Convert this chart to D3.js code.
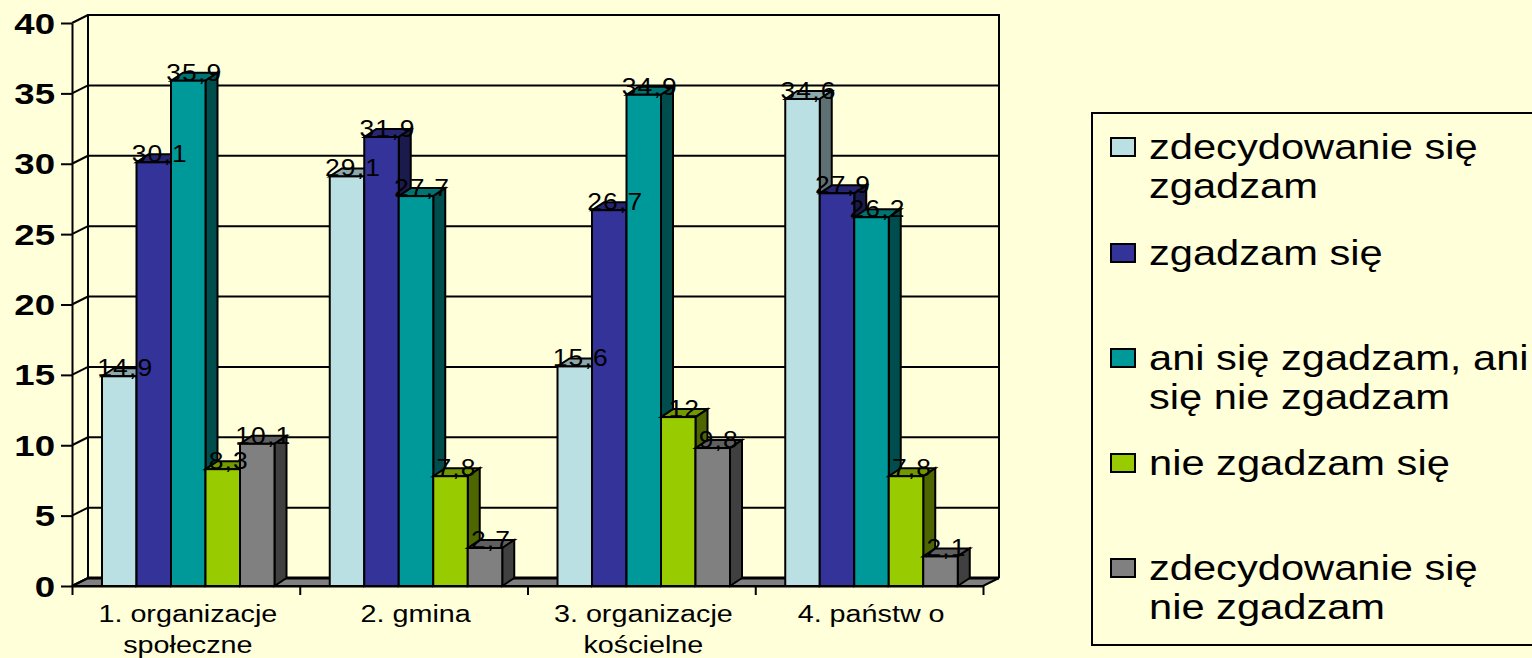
<!DOCTYPE html>
<html>
<head>
<meta charset="utf-8">
<script src="https://cdn.jsdelivr.net/npm/d3@7"></script>
<style>
  html, body { margin: 0; padding: 0; background: #ffffd9; overflow: hidden; }
  text { font-family: "Liberation Sans", Arial, sans-serif; fill: #000; }
</style>
</head>
<body>
<div id="chart"></div>
<script>
const categories = [["1. organizacje", "społeczne"], ["2. gmina"], ["3. organizacje", "kościelne"], ["4. państw o"]];
const seriesNames = [
    ["zdecydowanie się", "zgadzam"],
    ["zgadzam się"],
    ["ani się zgadzam, ani", "się nie zgadzam"],
    ["nie zgadzam się"],
    ["zdecydowanie się", "nie zgadzam"]
];
const zdecydowanieTak = [14.9, 29.1, 15.6, 34.6];
const zgadzam = [30.1, 31.9, 26.7, 27.9];
const aniAni = [35.9, 27.7, 34.9, 26.2];
const nieZgadzam = [8.3, 7.8, 12, 7.8];
const zdecydowanieNie = [10.1, 2.7, 9.8, 2.1];
const yTicks = [0, 5, 10, 15, 20, 25, 30, 35, 40];

const colors = ["#bbe0e3", "#333399", "#009999", "#99cc00", "#808080"];
const series = [zdecydowanieTak, zgadzam, aniAni, nieZgadzam, zdecydowanieNie];

const width = 1532, height = 658;
const plotLeft = 72, plotRight = 983, plotBottom = 586, plotTop = 23;
const wallDx = 16, wallDy = -8;   // depth of the chart box
const barDx = 12, barDy = -8;     // depth of one bar

const svg = d3.select("#chart").append("svg")
    .attr("width", width).attr("height", height)
    .style("display", "block");

const y = d3.scaleLinear().domain([0, 40]).range([plotBottom, plotTop]);
const x0 = d3.scaleBand().domain(d3.range(categories.length)).range([plotLeft, plotRight]);
const x1 = d3.scaleBand().domain(d3.range(series.length)).range([30, 30 + 172.5]);
const line = d3.line();

function shade(color, k) {
    const c = d3.rgb(color);
    return d3.rgb(c.r * k, c.g * k, c.b * k).formatHex();
}

// floor
svg.append("path")
    .attr("d", line([[plotLeft, plotBottom], [plotLeft + wallDx, plotBottom + wallDy], [plotRight + wallDx, plotBottom + wallDy], [plotRight, plotBottom]]) + "Z")
    .attr("fill", "#808080").attr("stroke", "#000").attr("stroke-width", 2);

// back wall and side wall grid
svg.selectAll("line.grid").data(yTicks).enter().append("line")
    .attr("class", "grid")
    .attr("x1", plotLeft + wallDx).attr("x2", plotRight + wallDx)
    .attr("y1", d => y(d) + wallDy).attr("y2", d => y(d) + wallDy)
    .attr("stroke", "#000").attr("stroke-width", d => d === 0 ? 3 : 2);

svg.selectAll("line.side").data(yTicks).enter().append("line")
    .attr("class", "side")
    .attr("x1", plotLeft).attr("x2", plotLeft + wallDx)
    .attr("y1", d => y(d)).attr("y2", d => y(d) + wallDy)
    .attr("stroke", "#000").attr("stroke-width", 2);

svg.append("path")
    .attr("d", line([[plotLeft + wallDx, plotBottom + wallDy], [plotLeft + wallDx, plotTop + wallDy], [plotRight + wallDx, plotTop + wallDy], [plotRight + wallDx, plotBottom + wallDy]]))
    .attr("fill", "none").attr("stroke", "#000").attr("stroke-width", 2);

// bars
series.forEach((values, s) => {
    const g = svg.append("g").attr("class", "series");
    values.forEach((v, c) => {
        const bx = x0(c) + x1(s), bw = x1.bandwidth(), ty = y(v);
        g.append("path")
            .attr("d", line([[bx, ty], [bx + barDx, ty + barDy], [bx + bw + barDx, ty + barDy], [bx + bw, ty]]) + "Z")
            .attr("fill", shade(colors[s], 0.75)).attr("stroke", "#000").attr("stroke-width", 2);
        g.append("path")
            .attr("d", line([[bx + bw, ty], [bx + bw + barDx, ty + barDy], [bx + bw + barDx, plotBottom + barDy], [bx + bw, plotBottom]]) + "Z")
            .attr("fill", shade(colors[s], 0.5)).attr("stroke", "#000").attr("stroke-width", 2);
        g.append("rect")
            .attr("x", bx).attr("y", ty).attr("width", bw).attr("height", plotBottom - ty)
            .attr("fill", colors[s]).attr("stroke", "#000").attr("stroke-width", 2);
    });
});

// value labels go over all the bars
series.forEach((values, s) => {
    svg.append("g").selectAll("text").data(values).enter().append("text")
        .attr("text-anchor", "middle")
        .attr("font-size", 23)
        .attr("letter-spacing", 1)
        .attr("transform", (d, c) => `translate(${x0(c) + x1(s) + x1.bandwidth() / 2 + barDx / 2},${y(d)}) scale(1.15,1)`)
        .text(d => String(d).replace(".", ","));
});

// y axis
const yAxis = svg.append("g")
    .attr("transform", `translate(${plotLeft},0)`)
    .call(d3.axisLeft(y).tickValues(yTicks).tickSize(11).tickSizeOuter(0));
yAxis.select(".domain").attr("stroke", "#000").attr("stroke-width", 2);
yAxis.selectAll("line").attr("stroke", "#000").attr("stroke-width", 2);
yAxis.selectAll("text")
    .attr("x", 0).attr("dy", 0).attr("y", 10)
    .attr("font-size", 30).attr("font-weight", "bold")
    .attr("font-family", '"Liberation Sans", Arial, sans-serif')
    .attr("text-anchor", "end")
    .attr("transform", "translate(-17,0) scale(1.22,1)");

// x axis: tick marks at the band edges
const xEdges = d3.scaleLinear().domain([0, categories.length]).range([plotLeft, plotRight]);
const xAxis = svg.append("g")
    .attr("transform", `translate(0,${plotBottom})`)
    .call(d3.axisBottom(xEdges).tickValues(d3.range(categories.length + 1)).tickSize(9).tickSizeOuter(0).tickFormat(""));
xAxis.selectAll(".domain, line").attr("stroke", "#000").attr("stroke-width", 2);

// x labels, one or two lines
const xLabelG = svg.append("g")
    .attr("transform", `translate(0,${plotBottom})`)
    .call(d3.axisBottom(x0).tickSize(0).tickFormat(""));
xLabelG.select(".domain").remove();
xLabelG.selectAll(".tick").each(function (c) {
    d3.select(this).selectAll("text.cat").data(categories[c]).enter().append("text")
        .attr("class", "cat")
        .attr("text-anchor", "middle")
        .attr("font-size", 23)
        .attr("font-family", '"Liberation Sans", Arial, sans-serif')
        .attr("fill", "#000")
        .attr("transform", (d, i) => `translate(2,${36 + i * 31}) scale(1.25,1)`)
        .text(d => d);
});

// legend
const legendY = [159, 265, 370, 475, 580];
const legend = svg.append("g");
legend.append("rect")
    .attr("x", 1092).attr("y", 113).attr("width", 460).attr("height", 532)
    .attr("fill", "none").attr("stroke", "#000").attr("stroke-width", 2);
seriesNames.forEach((lines, i) => {
    legend.append("rect")
        .attr("x", 1111).attr("y", legendY[i] - 21).attr("width", 24).attr("height", 18)
        .attr("fill", colors[i]).attr("stroke", "#000").attr("stroke-width", 2);
    legend.selectAll(null).data(lines).enter().append("text")
        .attr("font-size", 35)
        .attr("transform", (d, j) => `translate(1149,${legendY[i] + j * 39}) scale(1.19,1)`)
        .text(d => d);
});
</script>
</body>
</html>
